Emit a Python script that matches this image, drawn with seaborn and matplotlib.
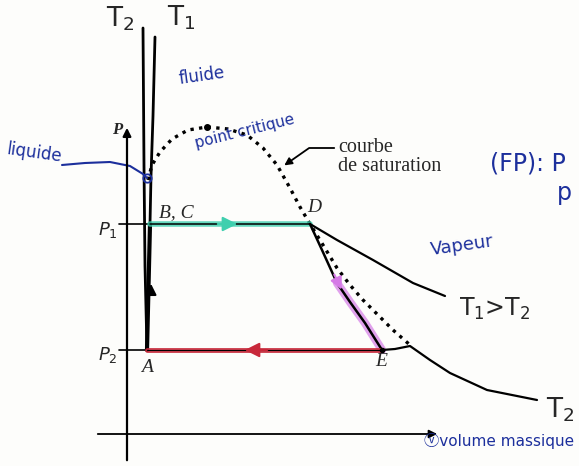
import matplotlib
matplotlib.use("Agg")
import matplotlib.pyplot as plt
import seaborn as sns
import pandas as pd

# Clapeyron-type diagram (P, v) of a vapour cycle
# v: volume massique (arbitrary units), P: pression (arbitrary units)
P1 = 242
P2 = 116
v_A, v_B, v_D, v_E = 147, 150, 310, 382

# saturation dome (dotted)
dome_v = [148, 152, 160, 172, 188, 207, 228, 247, 263, 277, 290, 300, 310, 323, 337, 350, 363, 378, 393, 410]
dome_p = [286, 301, 314, 327, 336, 339, 337, 331, 318, 301, 278, 259, 242, 221, 198, 181, 166, 151, 136, 121]
crit_v, crit_p = 207, 339

# liquid-side isotherms (nearly vertical)
iso_T2_liq_v = [143, 144, 145, 147]
iso_T2_liq_p = [438, 300, 200, 116]
iso_T1_liq_v = [155, 153, 151, 150]
iso_T1_liq_p = [429, 350, 290, 242]

# compression A -> B (pump)
pump_v = [v_A, v_B]
pump_p = [P2, P1]

# expansion D -> E
exp_v = [310, 322, 337, 350, 365, 382]
exp_p = [242, 216, 183, 164, 143, 116]

# vapour-side isotherms
iso_T1_vap_v = [310, 337, 373, 413, 445]
iso_T1_vap_p = [242, 226, 206, 183, 170]
iso_T2_vap_v = [382, 395, 410, 430, 450, 487, 537]
iso_T2_vap_p = [116, 117, 120, 106, 93, 76, 66]

blue = "#1c2f9c"
green = "#3fcfae"
red = "#c8283a"
magenta = "#d57ae6"

sns.set_theme(style="white")
plt.rcParams["font.family"] = ["DejaVu Sans", "Noto Sans CJK JP"]

fig = plt.figure(figsize=(5.79, 4.66), dpi=100)
fig.patch.set_facecolor("#fdfdfb")
ax = fig.add_axes([0, 0, 1, 1])
ax.set_facecolor("#fdfdfb")
ax.set_xlim(0, 579)
ax.set_ylim(0, 466)
ax.axis("off")


def line(v, p, **kw):
    df = pd.DataFrame({"v": v, "p": p})
    sns.lineplot(data=df, x="v", y="p", sort=False, estimator=None, ax=ax, **kw)


# axes of the diagram
ax.annotate("", xy=(127, 341), xytext=(127, 3),
            arrowprops=dict(arrowstyle="-|>", color="black", lw=1.6, mutation_scale=12))
ax.annotate("", xy=(440, 32), xytext=(95, 32),
            arrowprops=dict(arrowstyle="-|>", color="black", lw=1.3, mutation_scale=12))
ax.text(117, 336, "P", fontsize=12, fontstyle="italic", fontweight="bold",
        family="Liberation Serif", ha="center", va="center")

# pressure ticks
line([119, v_B], [P1, P1], color="black", lw=1.2)
line([119, v_A], [P2, P2], color="black", lw=1.2)
ax.text(108, 236, r"$P_1$", fontsize=13, ha="center", va="center")
ax.text(108, 111, r"$P_2$", fontsize=13, ha="center", va="center")

# isotherms on the liquid side
line(iso_T2_liq_v, iso_T2_liq_p, color="black", lw=2.0)
line(iso_T1_liq_v, iso_T1_liq_p, color="black", lw=2.0)
ax.text(120, 447, r"T$_2$", fontsize=19, ha="center", va="center")
ax.text(181, 448, r"T$_1$", fontsize=19, ha="center", va="center")

# saturation dome
line(dome_v, dome_p, color="black", lw=2.4, linestyle=(0, (1.0, 1.6)))
ax.plot(crit_v, crit_p, "o", color="black", ms=4)

# cycle
line(pump_v, pump_p, color="black", lw=3.0)
ax.annotate("", xy=(151, 185), xytext=(151, 170),
            arrowprops=dict(arrowstyle="-|>", color="black", lw=1.5, mutation_scale=16))

line([v_B, v_D], [P1, P1], color=green, lw=4, alpha=0.8)
line([v_B, v_D], [P1, P1], color="black", lw=1.1)
ax.annotate("", xy=(240, P1), xytext=(215, P1),
            arrowprops=dict(arrowstyle="-|>", color=green, lw=1.5, mutation_scale=22))

line(exp_v[2:], exp_p[2:], color=magenta, lw=6, alpha=0.7)
line(exp_v, exp_p, color="black", lw=1.8)
ax.annotate("", xy=(343, 174), xytext=(333, 194),
            arrowprops=dict(arrowstyle="-|>", color=magenta, lw=1.5, mutation_scale=18))

line([v_E, v_A], [P2, P2], color=red, lw=3.5, alpha=0.9)
line([v_E, v_A], [P2, P2], color="black", lw=0.8)
ax.annotate("", xy=(242, P2), xytext=(270, P2),
            arrowprops=dict(arrowstyle="-|>", color=red, lw=1.5, mutation_scale=22))
ax.plot(v_E, P2, "o", color="black", ms=3)

# vapour isotherms
line(iso_T1_vap_v, iso_T1_vap_p, color="black", lw=1.6)
line(iso_T2_vap_v, iso_T2_vap_p, color="black", lw=1.6)
ax.text(495, 157, r"T$_1$>T$_2$", fontsize=17, ha="center", va="center")
ax.text(560, 56, r"T$_2$", fontsize=19, ha="center", va="center")

# point labels
serif = dict(family="Liberation Serif", fontstyle="italic", fontsize=14)
ax.text(176, 253, "B, C", ha="center", va="center", **serif)
ax.text(314, 258, "D", ha="center", va="center", **serif)
ax.text(147, 98, "A", ha="center", va="center", **serif)
ax.text(381, 104, "E", ha="center", va="center", **serif)

# saturation curve annotation
ax.text(338, 309, "courbe\nde saturation", fontsize=14.5, family="Liberation Serif",
        ha="left", va="center", linespacing=0.95)
ax.annotate("", xy=(282, 299), xytext=(337, 318),
            arrowprops=dict(arrowstyle="-|>", color="black", lw=1.3, mutation_scale=11,
                            connectionstyle="angle,angleA=0,angleB=35,rad=0"))

# handwritten region labels
ax.text(202, 390, "fluide", color=blue, fontsize=12, rotation=8, ha="center", va="center")
ax.text(245, 335, "point critique", color=blue, fontsize=11, rotation=14, ha="center", va="center")
ax.text(34, 313, "liquide", color=blue, fontsize=12, rotation=-8, ha="center", va="center")
ax.text(462, 220, "Vapeur", color=blue, fontsize=13, rotation=8, ha="center", va="center")
ax.text(490, 302, "(FP): P", color=blue, fontsize=17, ha="left", va="center")
ax.text(557, 273, "p", color=blue, fontsize=17, ha="left", va="center")
ax.text(424, 25, "\u24e5volume massique", color=blue, fontsize=11, ha="left", va="center",
        family=["DejaVu Sans", "Noto Sans CJK JP"])

# pointer from "liquide" to the liquid edge of the dome
line([62, 85, 110, 130, 143, 147], [301, 303, 304, 300, 292, 288], color=blue, lw=1.5)
ax.plot(147, 288, "o", mfc="none", mec=blue, ms=6, mew=1.3)

fig.savefig("out.png", dpi=100, facecolor=fig.get_facecolor())
